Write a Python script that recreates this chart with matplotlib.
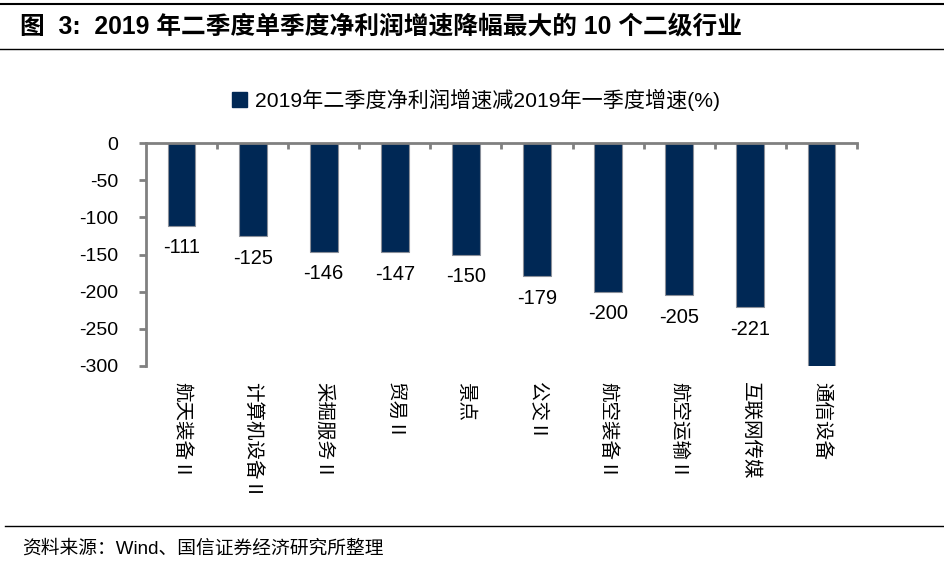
import matplotlib
matplotlib.use("Agg")
import matplotlib.pyplot as plt
from matplotlib.patches import Patch
from matplotlib.lines import Line2D

categories = ["航天装备Ⅱ", "计算机设备Ⅱ", "采掘服务Ⅱ", "贸易Ⅱ", "景点", "公交Ⅱ",
              "航空装备Ⅱ", "航空运输Ⅱ", "互联网传媒", "通信设备"]
values = [-111, -125, -146, -147, -150, -179, -200, -205, -221, -330]
series_name = "2019年二季度净利润增速减2019年一季度增速(%)"
title = "图  3:  2019 年二季度单季度净利润增速降幅最大的 10 个二级行业"
source = "资料来源：Wind、国信证券经济研究所整理"
yticks = [0, -50, -100, -150, -200, -250, -300]

plt.rcParams['font.family'] = ['Liberation Sans', 'Noto Sans CJK SC', 'DejaVu Sans']
cjk = ['Noto Sans CJK SC', 'DejaVu Sans']

fig = plt.figure(figsize=(9.45, 5.64), dpi=100)
ax = fig.add_axes([146/945, 1-366/564, (857-146)/945, (366-143)/564])

navy = "#002855"
x = list(range(len(categories)))
bars = ax.bar(x, values, width=0.39, color=navy, edgecolor="#8a8f99", linewidth=0.8, zorder=2)
ax.set_xlim(-0.5, len(categories)-0.5)
ax.set_ylim(-300, 0)
ax.set_yticks(yticks)
ax.set_yticklabels([str(v) for v in yticks], fontsize=14, family=['Liberation Sans'])

for i, v in enumerate(values):
    if v >= -300:
        ax.annotate(str(v), (i, v), xytext=(0, -16), textcoords="offset points",
                    ha="center", va="center", fontsize=14.5, family=['Liberation Sans'])

for s in ["right", "bottom"]:
    ax.spines[s].set_visible(False)
for s in ["left", "top"]:
    ax.spines[s].set_color("#808080")
    ax.spines[s].set_linewidth(2)
ax.tick_params(axis='y', direction='out', length=5, width=2, color="#808080", pad=15)
ax.set_xticks([])
ax.set_xticks([i + 0.5 for i in range(len(categories))], minor=True)
ax.tick_params(axis='x', which='minor', direction='in', length=4, width=2, color="#808080",
               top=True, bottom=False)

for i, c in enumerate(categories):
    ax.text(i, -0.07, c, transform=ax.get_xaxis_transform(), rotation=-90,
            ha="center", va="top", fontsize=14, family=cjk)

# legend
fig.legend(handles=[Patch(facecolor=navy, edgecolor=navy)], labels=[series_name],
           loc="center", bbox_to_anchor=(476/945, 1-100/564), frameon=False,
           handlelength=0.7, handleheight=0.7, handletextpad=0.35,
           prop={'family': ['Liberation Sans', 'Noto Sans CJK SC'], 'size': 15.2})

# title and lines
fig.add_artist(Line2D([0, 1], [1-4/564, 1-4/564], color="black", linewidth=1.5))
fig.add_artist(Line2D([0, 1], [1-49/564, 1-49/564], color="black", linewidth=1))
fig.text(20/945, 1-27/564, title, fontsize=17.8, fontweight="bold", va="center", ha="left",
         family=['Liberation Sans', 'Noto Sans CJK SC'])
fig.add_artist(Line2D([5/945, 1], [1-526/564, 1-526/564], color="black", linewidth=1))
fig.text(22/945, 1-549/564, source, fontsize=13.5, va="center", ha="left",
         family=['Liberation Sans', 'Noto Sans CJK SC'])

fig.savefig("out.png", dpi=100)
